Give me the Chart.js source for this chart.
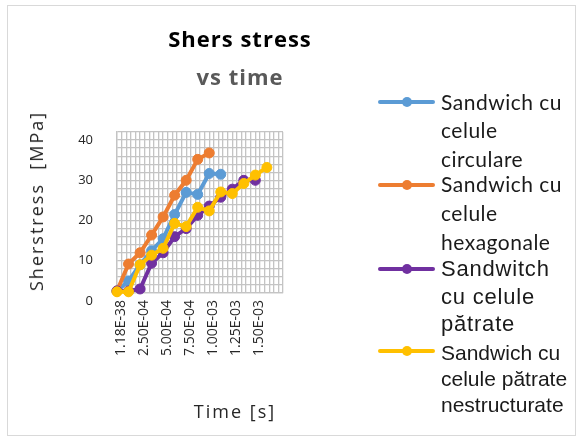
<!DOCTYPE html>
<html>
<head>
<meta charset="utf-8">
<script src="https://cdn.jsdelivr.net/npm/chart.js@4/dist/chart.umd.min.js"></script>
<style>
  html, body { margin: 0; padding: 0; background: #fff; }
  #wrap { position: relative; width: 580px; height: 439px; overflow: hidden; }
  #frame { position: absolute; left: 7px; top: 5px; width: 567px; height: 429px; border: 1px solid #d9d9d9; }
  #chart { position: absolute; left: 0; top: 0; }
  .title { position: absolute; left: 140px; width: 200px; text-align: center; font-family: "Open Sans", sans-serif;
           font-weight: bold; font-size: 22px; letter-spacing: 1px; line-height: 37.5px; top: 20px; }
  .title .sub { color: #595959; }
  .axis-title { position: absolute; font-family: "Open Sans", sans-serif; font-size: 18px; color: #262626;
                letter-spacing: 2px; white-space: pre; line-height: 1; }
  #ytitle { left: 36px; top: 201px; transform: translate(-50%, -50%) rotate(-90deg); }
  #xtitle { left: 235px; top: 411px; transform: translate(-50%, -50%); }
  .leg { position: absolute; left: 441px; color: #1a1a1a; white-space: nowrap; }
  .leg.c { font-family: Lato, sans-serif; font-size: 21px; letter-spacing: 0.5px; }
  .leg.a { font-family: "Liberation Sans", Arial, sans-serif; }
  .sym { position: absolute; left: 378px; width: 57px; height: 4px; border-radius: 2px; }
  .sym::after { content: ""; position: absolute; left: 23.5px; top: -3px; width: 10px; height: 10px;
                border-radius: 50%; background: inherit; }
</style>
</head>
<body>
<div id="wrap">
  <div id="frame"></div>
  <canvas id="chart" width="580" height="439"></canvas>
  <div class="title">Shers stress<br><span class="sub">vs time</span></div>
  <div class="axis-title" id="ytitle">Sherstress  [MPa]</div>
  <div class="axis-title" id="xtitle">Time [s]</div>
  <div id="legend"></div>
</div>
<script>
// timpul de măsurare [s]
const time = [0, 1.25e-4, 2.5e-4, 3.75e-4, 5e-4, 6.25e-4, 7.5e-4, 8.75e-4, 1e-3, 1.125e-3, 1.25e-3, 1.375e-3, 1.5e-3, 1.625e-3];

// tensiunea de forfecare [MPa] pentru fiecare tip de miez
const circulare = [0.5, 3, 7, 10.5, 13.5, 19.5, 25, 24.5, 29.7, 29.5];
const hexagonale = [0.5, 7.2, 10, 14.4, 18.9, 24.3, 28, 33.2, 34.8];
const patrate = [0.5, 0.5, 1, 7.4, 10, 14, 16, 19.3, 21.6, 23.8, 25.8, 28, 28];
const nestructurate = [0.3, 0.3, 7, 9.4, 11.1, 17.3, 16.5, 21.3, 20.4, 25.1, 24.7, 27.2, 29.3, 31.2];

const seriesNames = [
  'Sandwich cu celule circulare',
  'Sandwich cu celule hexagonale',
  'Sandwitch cu celule pătrate',
  'Sandwich cu celule pătrate nestructurate'
];
const colors = ['#5B9BD5', '#ED7D31', '#7030A0', '#FFC000'];

const xTickLabels = ['1.18E-38', '2.50E-04', '5.00E-04', '7.50E-04', '1.00E-03', '1.25E-03', '1.50E-03'];
const yTickLabels = ['0', '10', '20', '30', '40'];

const xMax = 1.8e-3, xMinor = 5e-5;
const yMax = 40, yMinor = 2;

const gridColor = '#c4c4c4';

function points(ys) {
  return ys.map((y, i) => ({ x: time[i], y }));
}

const allSeries = [circulare, hexagonale, patrate, nestructurate];

const datasets = allSeries.map((ys, i) => ({
  label: seriesNames[i],
  data: points(ys),
  borderColor: colors[i],
  backgroundColor: colors[i],
  pointBackgroundColor: colors[i],
  pointBorderColor: colors[i],
  borderWidth: 4,
  pointRadius: 5,
  pointBorderWidth: 1,
  tension: 0,
  clip: false,
  // seria următoare se desenează deasupra celei anterioare
  order: allSeries.length - i
}));

new Chart(document.getElementById('chart'), {
  type: 'line',
  data: { datasets },
  options: {
    responsive: false,
    animation: false,
    events: [],
    layout: { padding: { top: 132, right: 297, bottom: 0, left: 0 } },
    plugins: {
      legend: { display: false },
      tooltip: { enabled: false }
    },
    scales: {
      x: {
        type: 'linear',
        min: 0,
        max: xMax,
        afterBuildTicks: s => {
          const n = Math.round(xMax / xMinor);
          s.ticks = [];
          for (let i = 0; i <= n; i++) s.ticks.push({ value: i * xMinor });
        },
        afterFit: s => { s.height = 146; },
        grid: { color: gridColor, lineWidth: 1.3, drawTicks: false },
        border: { color: gridColor, width: 1.3 },
        ticks: {
          autoSkip: false,
          minRotation: 90,
          maxRotation: 90,
          padding: 7,
          labelOffset: 4,
          color: '#262626',
          font: { family: 'Open Sans', size: 14 },
          callback: (v, i) => (i % 5 === 0 && xTickLabels[i / 5]) || ''
        }
      },
      y: {
        min: 0,
        max: yMax,
        afterBuildTicks: s => {
          s.ticks = [];
          for (let v = 0; v <= yMax; v += yMinor) s.ticks.push({ value: v });
        },
        afterFit: s => { s.width = 117; },
        grid: { color: gridColor, lineWidth: 1.3, drawTicks: false },
        border: { color: gridColor, width: 1.3 },
        ticks: {
          autoSkip: false,
          padding: 24,
          labelOffset: 8,
          color: '#262626',
          font: { family: 'Open Sans', size: 13 },
          callback: (v, i) => (i % 5 === 0 ? yTickLabels[i / 5] : '')
        }
      }
    }
  }
});

// legenda, cu textul pe mai multe rânduri
const legendItems = [
  { lines: ['Sandwich cu', 'celule', 'circulare'], cls: 'c', top: 88, lh: 28.3, size: 21, sym: 102 },
  { lines: ['Sandwich cu', 'celule', 'hexagonale'], cls: 'c', top: 170, lh: 28.8, size: 21, sym: 185 },
  { lines: ['Sandwitch', 'cu celule', 'pătrate'], cls: 'a', top: 255, lh: 27.5, size: 22, sym: 269, ls: 0.8 },
  { lines: ['Sandwich cu', 'celule pătrate', 'nestructurate'], cls: 'a', top: 340, lh: 25.8, size: 21, sym: 351 }
];

const legend = document.getElementById('legend');
legendItems.forEach((item, i) => {
  const sym = document.createElement('div');
  sym.className = 'sym';
  sym.style.background = colors[i];
  sym.style.top = (item.sym - 2) + 'px';
  legend.appendChild(sym);

  const txt = document.createElement('div');
  txt.className = 'leg ' + item.cls;
  txt.style.top = item.top + 'px';
  txt.style.lineHeight = item.lh + 'px';
  txt.style.fontSize = item.size + 'px';
  if (item.ls) txt.style.letterSpacing = item.ls + 'px';
  txt.innerHTML = item.lines.join('<br>');
  legend.appendChild(txt);
});
</script>
</body>
</html>
